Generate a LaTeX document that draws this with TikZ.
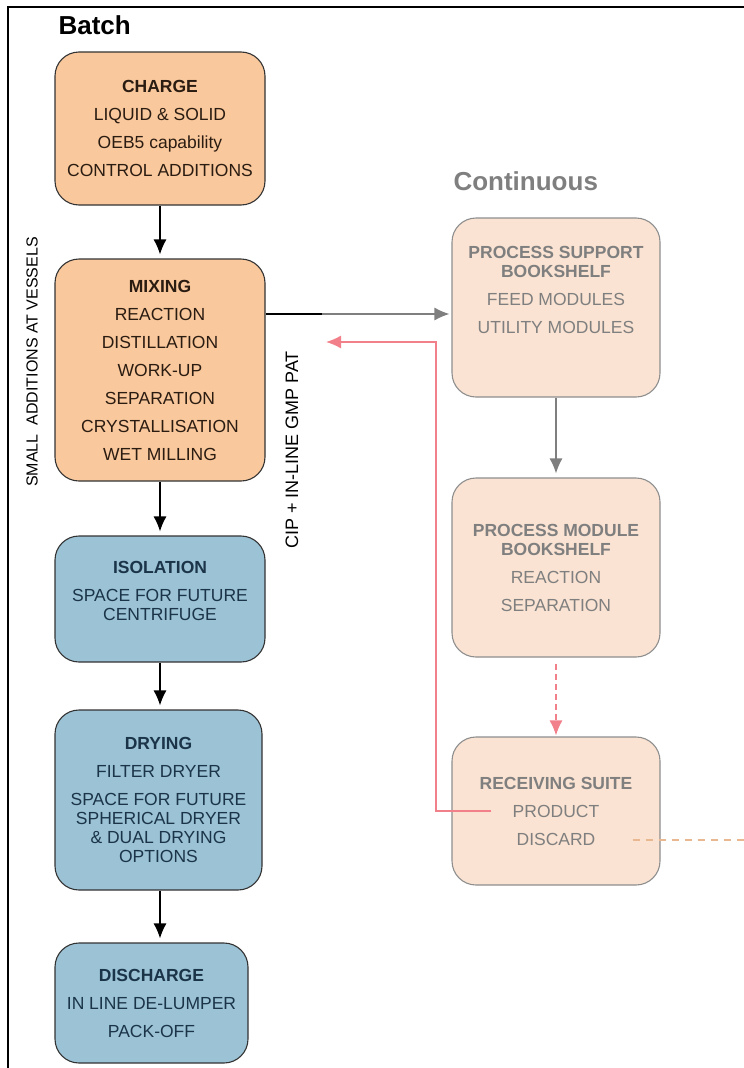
\documentclass[tikz,border=0pt]{standalone}
\usepackage{fontspec}
\setmainfont{Liberation Sans}
\usepackage{tikz}
\usetikzlibrary{arrows.meta, positioning, calc}
\definecolor{batchorange}{HTML}{F9C89C}
\definecolor{batchblue}{HTML}{9BC2D5}
\definecolor{contpeach}{HTML}{FAE3D2}
\definecolor{batchtext}{HTML}{2B1C12}
\definecolor{drytext}{HTML}{1B3448}
\definecolor{contgray}{HTML}{7F7F7F}
\definecolor{contline}{HTML}{8E8E8E}
\definecolor{cippink}{HTML}{F2808A}
\definecolor{discardtan}{HTML}{E9B890}
\tikzset{
  >=Latex,
  % Blocchi di processo
  stage/.style={draw=black!80, rounded corners=24pt, line width=1.1pt, align=center,
    inner sep=0pt, font=\fontsize{17.5}{19}\selectfont},
  stage batch/.style={stage, fill=batchorange, text=batchtext},
  stage dry/.style={stage, fill=batchblue, text=drytext},
  stage cont/.style={stage, fill=contpeach, draw=contline, text=contgray},
  % Connessioni
  connect arrow/.style={-{Latex[length=15pt,width=13pt]}, line width=1.3pt, shorten >=4pt},
  side label/.style={rotate=90, font=\fontsize{17}{19}\selectfont},
  title/.style={font=\bfseries\fontsize{26}{28}\selectfont, anchor=west}
}

\begin{document}
\begin{tikzpicture}[x=1pt, y=-1pt]
  \useasboundingbox (0,0) rectangle (744,1068);
  \draw[line width=1.6pt] (744,7) -- (8,7) -- (8,1068);

  % Batch
  \node[title] (batch) at (55,25) {Batch};
  \node[stage batch, minimum width=210pt, minimum height=153pt] (charge) at (160,128.5)
    {\textbf{CHARGE}\\[9pt] LIQUID \& SOLID\\[9pt] OEB5 capability\\[9pt] CONTROL ADDITIONS};
  \node[stage batch, minimum width=210pt, minimum height=222pt] (mix) at (160,370)
    {\textbf{MIXING}\\[9pt] REACTION\\[9pt] DISTILLATION\\[9pt] WORK-UP\\[9pt] SEPARATION\\[9pt]
     CRYSTALLISATION\\[9pt] WET MILLING};
  \node[stage dry, minimum width=210pt, minimum height=126pt] (iso) at (160,599)
    {\textbf{ISOLATION}\\[9pt] SPACE FOR FUTURE\\ CENTRIFUGE\\[-3pt] \mbox{}};
  \node[stage dry, minimum width=207pt, minimum height=180pt] (dry) at (158.5,800)
    {\textbf{DRYING}\\[9pt] FILTER DRYER\\[9pt] SPACE FOR FUTURE\\ SPHERICAL DRYER\\ \& DUAL DRYING\\ OPTIONS};
  \node[stage dry, minimum width=193pt, minimum height=120pt] (dis) at (151.5,1003)
    {\textbf{DISCHARGE}\\[9pt] IN LINE DE-LUMPER\\[9pt] PACK-OFF};

  \draw[connect arrow] (charge.south) -- (charge.south |- mix.north);
  \draw[connect arrow] (mix.south) -- (iso.north);
  \draw[connect arrow] (iso.south) -- (iso.south |- dry.north);
  \draw[connect arrow] (dry.south -| iso.south) -- (iso.south |- dis.north);

  \node[side label, font=\fontsize{16}{18}\selectfont] (small) at (32,362) {SMALL\ \ ADDITIONS AT VESSELS};
  \node[side label, font=\fontsize{18}{20}\selectfont] (cip) at (292,450) {CIP + IN-LINE GMP PAT};

  % Continuous
  \node[title, text=contgray] (cont) at (450,181) {Continuous};
  \node[stage cont, minimum width=208pt, minimum height=179pt] (psb) at (556,307.5)
    {\textbf{PROCESS SUPPORT}\\ \textbf{BOOKSHELF}\\[9pt] FEED MODULES\\[9pt] UTILITY MODULES\\[16pt] \mbox{}};
  \node[stage cont, minimum width=208pt, minimum height=179pt] (pmb) at (556,567.5)
    {\textbf{PROCESS MODULE}\\ \textbf{BOOKSHELF}\\[9pt] REACTION\\[9pt] SEPARATION};
  \node[stage cont, minimum width=208pt, minimum height=148pt] (rs) at (556,811)
    {\textbf{RECEIVING SUITE}\\[9pt] PRODUCT\\[9pt] DISCARD};

  \coordinate (split) at (322,314);
  \coordinate (cip end) at (326,342);
  \coordinate (discard end) at (744,840);
  \draw[line width=1.3pt] (mix.east |- split) -- (split);
  \draw[connect arrow, contgray, shorten >=2pt] (split) -- (psb.west |- split);
  \draw[connect arrow, contgray] (psb.south) -- (pmb.north);
  \draw[connect arrow, cippink, dashed, dash pattern=on 6pt off 4pt, shorten <=6pt, shorten >=1pt]
    (pmb.south) -- (rs.north);
  \draw[cippink, line width=1.3pt, -{Latex[length=15pt,width=13pt]}]
    ([xshift=40pt]rs.west) -| (436,342) -- (cip end);
  \draw[discardtan, line width=1.3pt, dash pattern=on 7pt off 6pt]
    ([shift={(-28,29)}]rs.east) -- (discard end);
\end{tikzpicture}
\end{document}
